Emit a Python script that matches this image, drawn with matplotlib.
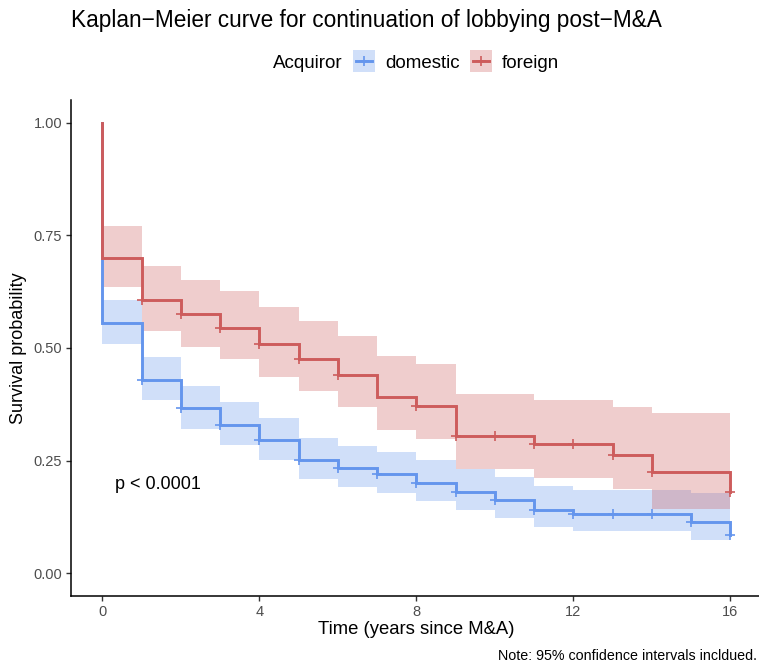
import matplotlib
matplotlib.use("Agg")
import matplotlib.pyplot as plt
from matplotlib.patches import Rectangle
from matplotlib.lines import Line2D

plt.rcParams['font.family'] = ['Liberation Sans', 'DejaVu Sans']

# yearly step estimates; value at index t holds from year t to t+1
years = list(range(17))

domestic_surv = [0.556, 0.428, 0.366, 0.328, 0.295, 0.252, 0.234, 0.220, 0.200,
                 0.180, 0.162, 0.141, 0.132, 0.132, 0.132, 0.114, 0.086]
domestic_upper = [0.606, 0.479, 0.416, 0.380, 0.344, 0.301, 0.282, 0.269, 0.251,
                  0.231, 0.214, 0.194, 0.185, 0.185, 0.185, 0.178]
domestic_lower = [0.509, 0.384, 0.321, 0.285, 0.251, 0.210, 0.192, 0.179, 0.161,
                  0.140, 0.123, 0.103, 0.093, 0.093, 0.093, 0.074]
domestic_censor = [1, 2, 3, 4, 5, 6, 7, 8, 9, 10, 11, 12, 13, 14, 15, 16]

foreign_surv = [0.700, 0.606, 0.575, 0.545, 0.508, 0.476, 0.441, 0.392, 0.371,
                0.304, 0.304, 0.287, 0.287, 0.262, 0.225, 0.225, 0.180]
foreign_upper = [0.771, 0.683, 0.652, 0.626, 0.592, 0.561, 0.527, 0.482, 0.464,
                 0.399, 0.399, 0.385, 0.385, 0.369, 0.355, 0.355]
foreign_lower = [0.635, 0.537, 0.503, 0.475, 0.436, 0.404, 0.368, 0.318, 0.298,
                 0.231, 0.231, 0.212, 0.212, 0.186, 0.142, 0.142]
foreign_censor = [1, 2, 3, 4, 5, 6, 8, 9, 10, 11, 12, 13, 14, 16]

groups = ["domestic", "foreign"]
colors = {"domestic": "#6495ED", "foreign": "#CD5C5C"}
series = {
    "domestic": (domestic_surv, domestic_upper, domestic_lower, domestic_censor),
    "foreign": (foreign_surv, foreign_upper, foreign_lower, foreign_censor),
}

W, H = 759, 665
fig = plt.figure(figsize=(W / 100, H / 100), dpi=100)
ax = fig.add_axes([70.7 / W, (H - 595.8) / H, 691 / W, 495.6 / H])

# confidence bands first, curves on top
for g in groups:
    surv, upper, lower, _ = series[g]
    ax.fill_between(years, lower + [lower[-1]], upper + [upper[-1]],
                    step="post", color=colors[g], alpha=0.3, linewidth=0)

for g in groups:
    surv, upper, lower, censor = series[g]
    ax.step([0] + years, [1.0] + surv, where="post", color=colors[g],
            linewidth=2.1, solid_joinstyle="miter")
    ax.plot(censor, [surv[t] for t in censor], linestyle="none", marker="+",
            markersize=6.5, markeredgewidth=1.2, color=colors[g])

ax.text(0.33, 0.196, "p < 0.0001", fontsize=13, ha="left", va="center")

ax.set_xlim(-0.805, 16.8)
ax.set_ylim(-0.05, 1.05)
ax.set_xticks([0, 4, 8, 12, 16])
ax.set_yticks([0, 0.25, 0.5, 0.75, 1.0])
ax.set_yticklabels(["0.00", "0.25", "0.50", "0.75", "1.00"])
ax.tick_params(axis="both", labelsize=10.5, labelcolor="#4D4D4D", color="#333333",
               length=3.6, width=1.0)
ax.tick_params(axis="x", pad=3.2)
ax.tick_params(axis="y", pad=2.5)
for side in ("top", "right"):
    ax.spines[side].set_visible(False)
for side in ("left", "bottom"):
    ax.spines[side].set_linewidth(1.1)

fig.text(71 / W, 1 - 27 / H, "Kaplan\u2212Meier curve for continuation of lobbying post\u2212M&A",
         fontsize=16.25, ha="left", va="baseline")
fig.text(416 / W, 1 - 634 / H, "Time (years since M&A)", fontsize=13.3,
         ha="center", va="baseline")
fig.text(18.5 / W, 1 - 348 / H, "Survival probability", fontsize=13,
         rotation=90, ha="center", va="center")
fig.text(757 / W, 1 - 660 / H, "Note: 95% confidence intervals incldued.",
         fontsize=10.3, ha="right", va="baseline")

# legend row: title, then a key box with line and cross for each group
fig.text(273 / W, 1 - 68 / H, "Acquiror", fontsize=13.5, ha="left", va="baseline")
key_left = {"domestic": 353, "foreign": 470}
for g in groups:
    x0 = key_left[g]
    fig.patches.append(Rectangle((x0 / W, 1 - 72 / H), 22 / W, 22 / H,
                                 transform=fig.transFigure, facecolor=colors[g],
                                 alpha=0.3, edgecolor="none"))
    fig.lines.append(Line2D([(x0 + 3) / W, (x0 + 19) / W], [1 - 61 / H, 1 - 61 / H],
                            transform=fig.transFigure, color=colors[g], linewidth=2.1))
    fig.lines.append(Line2D([(x0 + 11) / W], [1 - 61 / H], transform=fig.transFigure,
                            color=colors[g], marker="+", markersize=6.5,
                            markeredgewidth=1.2, linestyle="none"))
    fig.text((x0 + 32) / W, 1 - 68 / H, g, fontsize=13.5, ha="left", va="baseline")

fig.savefig("out.png", dpi=100)
